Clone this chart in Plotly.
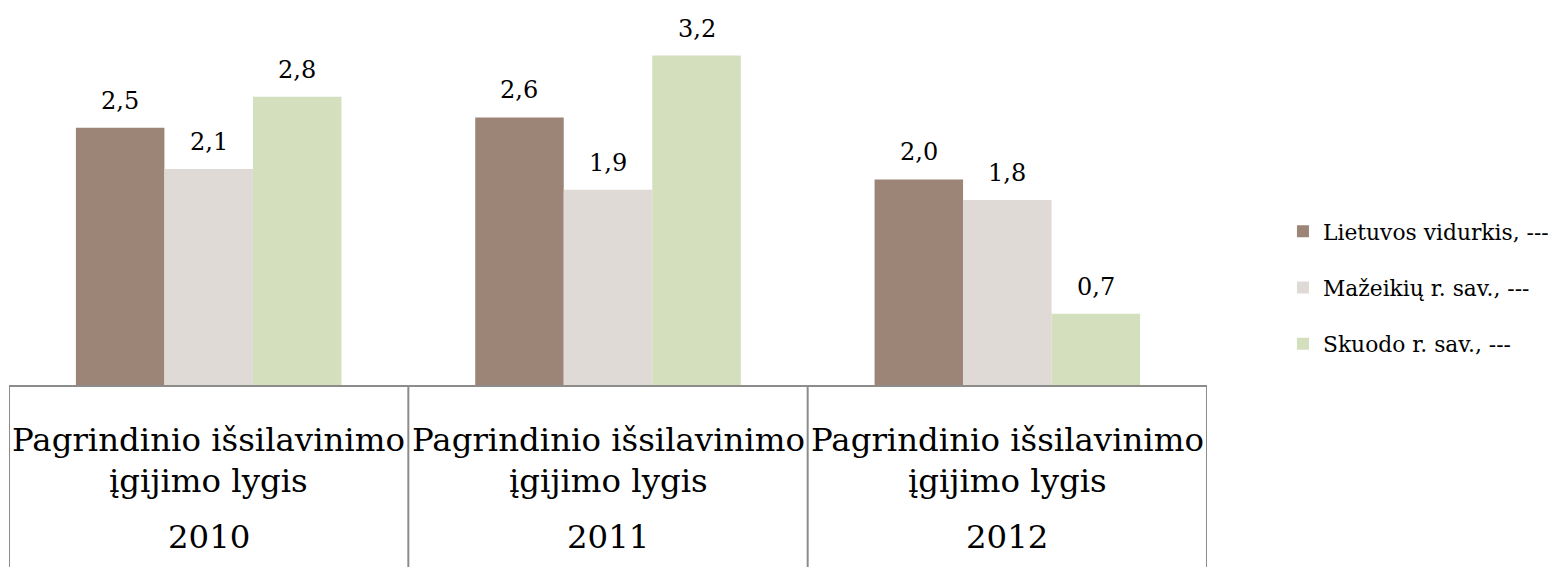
import plotly.graph_objects as go

categories = ["2010", "2011", "2012"]
cat_line1 = "Pagrindinio išsilavinimo"
cat_line2 = "įgijimo lygis"
series_names = ["Lietuvos vidurkis, ---", "Mažeikių r. sav., ---", "Skuodo r. sav., ---"]
lietuvos = [2.5, 2.6, 2.0]
mazeikiu = [2.1, 1.9, 1.8]
skuodo = [2.8, 3.2, 0.7]
colors = ["#9c8577", "#dfdad6", "#d4dfbe"]

FONT = "DejaVu Serif"
BARGAP = 0.335
all_series = [lietuvos, mazeikiu, skuodo]
n_series = len(all_series)
bar_w = (1 - BARGAP) / n_series

fig = go.Figure()
annotations = []
for j, (name, vals, col) in enumerate(zip(series_names, all_series, colors)):
    fig.add_trace(go.Bar(
        x=list(range(len(categories))), y=vals, name=name, legendgroup=name,
        marker=dict(color=col, line=dict(width=0)),
    ))
    for i, v in enumerate(vals):
        annotations.append(dict(
            x=i + (j - (n_series - 1) / 2) * bar_w, xref="x", y=v, yref="y",
            text=f"{v:.1f}".replace(".", ","), showarrow=False, yanchor="bottom",
            yshift=11, font=dict(family=FONT, size=24, color="#000")))

line_col = "#8c8c8c"
shapes = []
shapes.append(dict(type="line", xref="x", yref="paper", x0=-0.5, x1=len(categories) - 0.5, y0=0, y1=0,
                   line=dict(color=line_col, width=2)))
for i in range(len(categories) + 1):
    shapes.append(dict(type="line", xref="x", yref="paper", x0=i - 0.5, x1=i - 0.5, y0=0, y1=-0.6,
                       line=dict(color=line_col, width=2)))

CAT_SIZE = 32.4
for i, c in enumerate(categories):
    annotations.append(dict(x=i, xref="x", yref="paper", y=-0.143, text=cat_line1, showarrow=False,
                            font=dict(family=FONT, size=CAT_SIZE, color="#000"), yanchor="middle"))
    annotations.append(dict(x=i, xref="x", yref="paper", y=-0.251, text=cat_line2, showarrow=False,
                            font=dict(family=FONT, size=CAT_SIZE, color="#000"), yanchor="middle"))
    annotations.append(dict(x=i, xref="x", yref="paper", y=-0.399, text=c, showarrow=False,
                            font=dict(family=FONT, size=CAT_SIZE, color="#000"), yanchor="middle"))

fig.update_layout(
    width=1560, height=567,
    margin=dict(l=1, r=361, t=0, b=189, autoexpand=False),
    plot_bgcolor="white", paper_bgcolor="white",
    barmode="group", bargap=BARGAP, bargroupgap=0,
    xaxis=dict(type="linear", showticklabels=False, showgrid=False, zeroline=False, showline=False,
               range=[-0.5, len(categories) - 0.5], ticks=""),
    yaxis=dict(visible=False, range=[0, 3.66]),
    legend=dict(x=1.0634, y=0.2593, yanchor="middle", xanchor="left",
                font=dict(family=FONT, size=21.8, color="#000"), tracegroupgap=25,
                itemwidth=30, traceorder="grouped", bgcolor="rgba(0,0,0,0)"),
    shapes=shapes, annotations=annotations,
    showlegend=True,
)
fig.write_html("out.html")
